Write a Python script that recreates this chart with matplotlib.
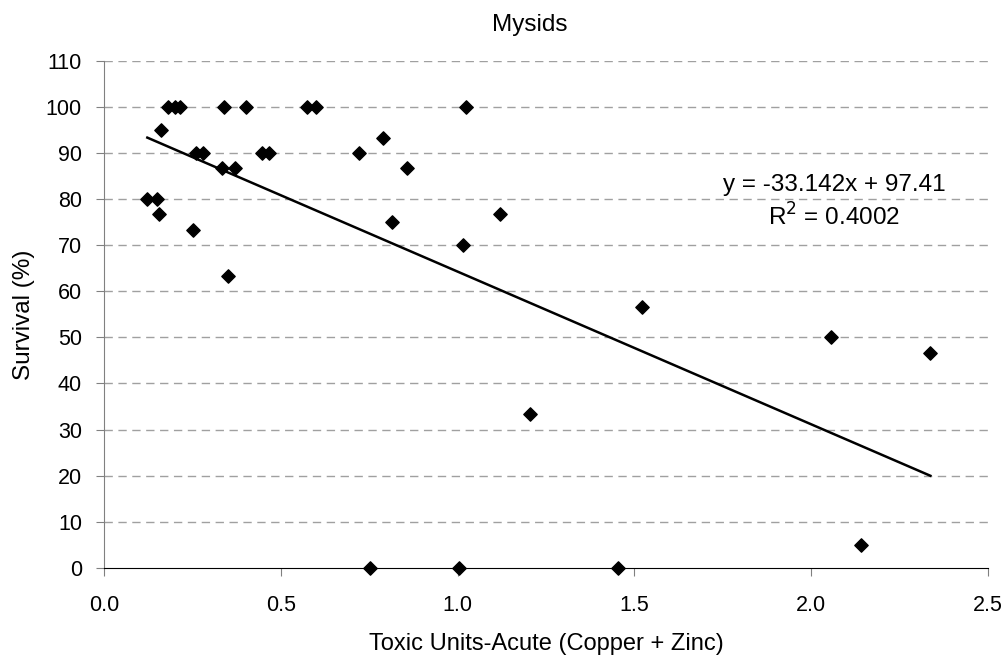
import matplotlib
matplotlib.use("Agg")
import matplotlib.pyplot as plt
import numpy as np

plt.rcParams['font.family'] = ['Liberation Sans', 'DejaVu Sans']

toxic_units = [0.122, 0.148, 0.155, 0.160, 0.181, 0.199, 0.214, 0.251, 0.260, 0.280,
               0.332, 0.340, 0.351, 0.370, 0.401, 0.446, 0.465, 0.573, 0.598, 0.721,
               0.753, 0.788, 0.815, 0.857, 1.005, 1.015, 1.023, 1.120, 1.205, 1.453,
               1.520, 2.056, 2.141, 2.337]
survival = [80, 80, 76.7, 95, 100, 100, 100, 73.3, 90, 90,
            86.7, 100, 63.3, 86.7, 100, 90, 90, 100, 100, 90,
            0, 93.3, 75, 86.7, 0, 70, 100, 76.7, 33.3, 0,
            56.7, 50, 5, 46.7]
slope = -33.142
intercept = 97.41
r2 = 0.4002

W, H = 1008, 658
fig = plt.figure(figsize=(W / 100, H / 100), dpi=100)
ax = fig.add_axes([104.2 / W, 1 - 567.7 / H, (988 - 104.2) / W, (567.7 - 61) / H])

ax.set_xlim(0, 2.5)
ax.set_ylim(0, 110)
xt = np.arange(0, 2.51, 0.5)
ax.set_xticks(xt)
ax.set_yticks(np.arange(0, 111, 10))
ax.set_xticklabels([f"{v:.1f}" for v in xt])

for yv in range(10, 111, 10):
    ax.axhline(yv, color='#a0a0a0', lw=1, ls=(0, (6, 4)), zorder=0)

ax.scatter(toxic_units, survival, marker='D', s=46, color='black', zorder=3, clip_on=False)

xs = np.array([min(toxic_units), max(toxic_units)])
ax.plot(xs, slope * xs + intercept, color='black', lw=1.8, zorder=2)

fig.text(834 / W, 1 - 185 / H, f"y = {slope}x + {intercept}", ha='center', va='center', fontsize=17.5)
fig.text(834 / W, 1 - 216.7 / H, f"R$^2$ = {r2}", ha='center', va='center', fontsize=17.5)

for s in ['top', 'right']:
    ax.spines[s].set_visible(False)
ax.spines['left'].set_color('#808080')
ax.spines['bottom'].set_color('black')
ax.tick_params(axis='y', direction='out', length=6, color='#808080', labelsize=15.5, pad=10)
ax.tick_params(axis='x', direction='out', length=6, color='#808080', labelsize=15.5, pad=14)

ax.set_xlabel("Toxic Units-Acute (Copper + Zinc)", fontsize=17, labelpad=12)
ax.set_ylabel("Survival (%)", fontsize=17.5, labelpad=8)
fig.text(530 / W, 1 - 25 / H, "Mysids", ha='center', va='center', fontsize=17.5)

fig.savefig("out.png", dpi=100)
